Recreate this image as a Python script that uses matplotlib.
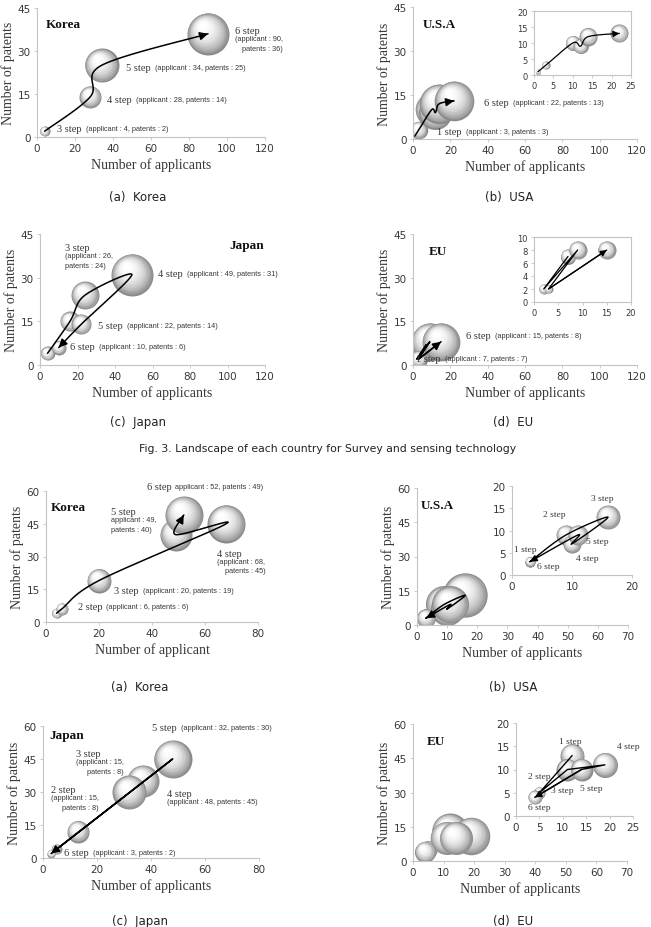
import matplotlib

matplotlib.use("Agg")
import matplotlib.pyplot as plt
import matplotlib.transforms as mtransforms
import numpy as np

W, H, DPI = 651, 928, 100
SERIF = ["Liberation Serif", "DejaVu Serif"]
SANS = ["Liberation Sans", "DejaVu Sans"]
TEXT = "#383838"
AXIS = "#c4c4c4"

# ---- Fig. 3: survey and sensing technology ----
kr1_x = [4, 28, 34, 90]
kr1_y = [2, 14, 25, 36]
kr1_bubble = [5, 11, 17, 21]

us1_x = [1, 3, 10, 12, 14, 22]
us1_y = [1, 3, 10, 9, 12, 13]
us1_bubble = [2.5, 4, 7.5, 7.5, 9, 9]

jp1_x = [4, 16, 24, 49, 22, 10]
jp1_y = [4, 15, 24, 31, 14, 6]
jp1_bubble = [7, 10, 14, 21, 10, 7]

eu1_x = [7, 2, 9, 3, 15]
eu1_y = [7, 2, 8, 2, 8]
eu1_bubble = [7.5, 5, 9, 4, 9]

# ---- second technology field ----
kr2_x = [4, 6, 20, 68, 49, 52]
kr2_y = [4, 6, 19, 45, 40, 49]
kr2_bubble = [5, 6, 12, 19, 16, 19]

us2_x = [3, 9, 16, 10, 11, 3]
us2_y = [3, 9, 13, 7, 9, 3]
us2_bubble = [5, 10, 12, 9, 10, 5]

jp2_x = [5, 13, 37, 48, 32, 3]
jp2_y = [4, 12, 35, 45, 30, 2]
jp2_bubble = [5, 11, 16, 19, 17, 4]

eu2_x = [12, 5, 11, 19, 14, 4]
eu2_y = [13, 5, 10, 11, 10, 4]
eu2_bubble = [12, 6, 11, 12.5, 11, 7]

fig = plt.figure(figsize=(W / DPI, H / DPI), dpi=DPI)


def add_axes(left, top, right, bottom):
    return fig.add_axes([left / W, 1 - bottom / H, (right - left) / W, (bottom - top) / H])


def style(ax, xmax, xstep, ymax, ystep, size=7.5, box=False):
    ax.set_xlim(0, xmax)
    ax.set_ylim(0, ymax)
    ax.set_xticks(np.arange(0, xmax + 0.1, xstep))
    ax.set_yticks(np.arange(0, ymax + 0.1, ystep))
    for name, spine in ax.spines.items():
        spine.set_color(AXIS)
        spine.set_linewidth(0.8)
        if name in ("top", "right"):
            spine.set_visible(box)
    ax.tick_params(length=2.5, width=0.6, color=AXIS, labelsize=size,
                   labelcolor=TEXT, pad=2)


def main_labels(ax, xlabel="Number of applicants"):
    ax.set_xlabel(xlabel, family=SERIF, fontsize=10, color=TEXT, labelpad=3)
    ax.set_ylabel("Number of patents", family=SERIF, fontsize=10, color=TEXT, labelpad=2)


def bubbles(ax, xs, ys, radii, scale=1.0, z=2):
    layers = 22
    for i, (x, y, r) in enumerate(zip(xs, ys, radii)):
        r = r * scale
        for k in range(layers):
            f = 1 - 0.93 * k / layers
            shift = (1 - f) * r * 0.6 / DPI
            offset = mtransforms.ScaledTranslation(-0.55 * shift, 0.8 * shift, fig.dpi_scale_trans)
            grey = 1 - 0.46 * f ** 2.5
            ax.scatter([x], [y], s=(2 * f * r * 72 / DPI) ** 2, color=(grey, grey, grey),
                       linewidths=0, transform=ax.transData + offset,
                       zorder=z + i * 0.05 + k * 0.001)


def spline(points, n=30):
    p = np.vstack([points[0], points, points[-1]])
    t = np.linspace(0, 1, n)[:, None]
    out = []
    for i in range(1, len(p) - 2):
        p0, p1, p2, p3 = p[i - 1], p[i], p[i + 1], p[i + 2]
        seg = 0.5 * (2 * p1 + (p2 - p0) * t + (2 * p0 - 5 * p1 + 4 * p2 - p3) * t ** 2
                     + (3 * p1 - p0 - 3 * p2 + p3) * t ** 3)
        out.append(seg if i == 1 else seg[1:])
    return np.vstack(out)


def arrow_path(ax, xs, ys, order, smooth=True, lw=1.1, head=12):
    pts = ax.transData.transform(np.column_stack([[xs[i] for i in order], [ys[i] for i in order]]))
    if smooth:
        pts = spline(pts)
    pts = ax.transData.inverted().transform(pts)
    ax.plot(pts[:, 0], pts[:, 1], color="black", lw=lw, zorder=5, solid_capstyle="round")
    back = pts[-4] if smooth else pts[-2]
    ax.annotate("", xy=pts[-1], xytext=back, zorder=5,
                arrowprops=dict(arrowstyle="-|>", color="black", lw=lw,
                                mutation_scale=head, shrinkA=0, shrinkB=0))


def step_text(ax, x, y, step, detail=None, below=False, size=7.5, dsize=5.3,
              ha="left", align="left"):
    t = ax.text(x, y, step, family=SERIF, fontsize=size, color=TEXT, ha=ha, va="center", zorder=6)
    if detail is None:
        return
    if below:
        ax.annotate(detail, xy=(0, 0), xycoords=t, xytext=(0, 0), textcoords="offset points",
                    ha="left", va="top", family=SANS, fontsize=dsize, color=TEXT,
                    multialignment=align, linespacing=1.5, zorder=6)
    else:
        ax.annotate(detail, xy=(1, 0.5), xycoords=t, xytext=(3, 0), textcoords="offset points",
                    ha="left", va="center", family=SANS, fontsize=dsize, color=TEXT, zorder=6)


def country(ax, x, y, name):
    ax.text(x, y, name, transform=ax.transAxes, family=SERIF, fontsize=9.5,
            fontweight="bold", color="#111111", ha="left", va="center", zorder=7)


def caption(x, y, s, size=8.5):
    fig.text(x / W, 1 - y / H, s, ha="center", va="center", fontsize=size, color="#222222")


# (a) Korea
ax = add_axes(37, 9, 265, 138)
style(ax, 120, 20, 45, 15)
main_labels(ax)
bubbles(ax, kr1_x, kr1_y, kr1_bubble)
arrow_path(ax, kr1_x, kr1_y, [0, 1, 2, 3])
country(ax, 0.04, 0.875, "Korea")
step_text(ax, 10.5, 3.1, "3 step", "(applicant : 4, patents : 2)")
step_text(ax, 37, 13.2, "4 step", "(applicant : 28, patents : 14)")
step_text(ax, 47, 24.4, "5 step", "(applicant : 34, patents : 25)")
step_text(ax, 104, 37, "6 step", "(applicant : 90,\npatents : 36)", below=True, align="right")

# (b) USA
ax = add_axes(413, 8, 637, 140)
style(ax, 120, 20, 45, 15)
main_labels(ax)
bubbles(ax, us1_x, us1_y, us1_bubble, scale=2.2)
arrow_path(ax, us1_x, us1_y, [0, 1, 2, 3, 4, 5])
country(ax, 0.045, 0.875, "U.S.A")
step_text(ax, 12.8, 2.4, "1 step", "(applicant : 3, patents : 3)")
step_text(ax, 38, 12.6, "6 step", "(applicant : 22, patents : 13)")
ins = add_axes(534, 12, 631, 76)
style(ins, 25, 5, 20, 5, size=6, box=True)
bubbles(ins, us1_x, us1_y, us1_bubble)
arrow_path(ins, us1_x, us1_y, [0, 1, 2, 3, 4, 5], lw=0.9, head=9)

# (c) Japan
ax = add_axes(40, 235, 265, 366)
style(ax, 120, 20, 45, 15)
main_labels(ax)
bubbles(ax, jp1_x, jp1_y, jp1_bubble)
arrow_path(ax, jp1_x, jp1_y, [0, 1, 2, 3, 4, 5])
country(ax, 0.84, 0.916, "Japan")
step_text(ax, 13.3, 40.2, "3 step", "(applicant : 26,\npatents : 24)", below=True)
step_text(ax, 63, 31.6, "4 step", "(applicant : 49, patents : 31)")
step_text(ax, 31, 13.4, "5 step", "(applicant : 22, patents : 14)")
step_text(ax, 16, 6.2, "6 step", "(applicant : 10, patents : 6)")

# (d) EU
ax = add_axes(413, 235, 637, 366)
style(ax, 120, 20, 45, 15)
main_labels(ax)
bubbles(ax, eu1_x, eu1_y, eu1_bubble, scale=2.1)
arrow_path(ax, eu1_x, eu1_y, [0, 1, 2, 3, 4], smooth=False)
country(ax, 0.07, 0.87, "EU")
step_text(ax, 28.4, 10.3, "6 step", "(applicant : 15, patents : 8)")
step_text(ax, 1.6, 2.4, "1 step", "(applicant : 7, patents : 7)")
ins = add_axes(534, 238, 631, 303)
style(ins, 20, 5, 10, 2, size=6, box=True)
bubbles(ins, eu1_x, eu1_y, eu1_bubble)
arrow_path(ins, eu1_x, eu1_y, [0, 1, 2, 3, 4], smooth=False, lw=0.9, head=9)

caption(138, 197, "(a)  Korea")
caption(509, 197, "(b)  USA")
caption(138, 423, "(c)  Japan")
caption(513, 423, "(d)  EU")
caption(328, 449, "Fig. 3. Landscape of each country for Survey and sensing technology", size=7.8)

# (a) Korea
ax = add_axes(46, 492, 258, 623)
style(ax, 80, 20, 60, 15)
main_labels(ax, "Number of applicant")
bubbles(ax, kr2_x, kr2_y, kr2_bubble)
arrow_path(ax, kr2_x, kr2_y, [0, 1, 2, 3, 4, 5])
country(ax, 0.02, 0.88, "Korea")
step_text(ax, 38, 62, "6 step", "applicant : 52, patents : 49)")
step_text(ax, 24.5, 50.4, "5 step", "applicant : 49,\npatents : 40)", below=True)
step_text(ax, 64.6, 31.6, "4 step", "(applicant : 68,\npatents : 45)", below=True, align="right")
step_text(ax, 25.8, 14.2, "3 step", "(applicant : 20, patents : 19)")
step_text(ax, 12, 6.9, "2 step", "(applicant : 6, patents : 6)")

# (b) USA
ax = add_axes(417, 489, 628, 626)
style(ax, 70, 10, 60, 15)
main_labels(ax)
bubbles(ax, us2_x, us2_y, us2_bubble, scale=1.85)
arrow_path(ax, us2_x, us2_y, [0, 1, 2, 3, 4, 5])
country(ax, 0.02, 0.876, "U.S.A")
ins = add_axes(512, 487, 632, 576)
ins.patch.set_alpha(0)
style(ins, 20, 10, 20, 5)
bubbles(ins, us2_x, us2_y, us2_bubble)
arrow_path(ins, us2_x, us2_y, [0, 1, 2, 3, 4, 5], lw=1.0, head=10)
for sx, sy, s in [(15, 17.3, "3 step"), (7, 13.7, "2 step"), (2.2, 5.8, "1 step"),
                  (14.3, 7.6, "5 step"), (12.5, 3.8, "4 step"), (6, 2, "6 step")]:
    step_text(ins, sx, sy, s, size=6.8, ha="center")

# (c) Japan
ax = add_axes(43, 727, 259, 859)
style(ax, 80, 20, 60, 15)
main_labels(ax)
bubbles(ax, jp2_x, jp2_y, jp2_bubble)
arrow_path(ax, jp2_x, jp2_y, [0, 3, 5], smooth=False)
country(ax, 0.03, 0.93, "Japan")
step_text(ax, 40.4, 59.5, "5 step", "(applicant : 32, patents : 30)")
step_text(ax, 12.2, 47.3, "3 step", "(applicant : 15,\npatents : 8)", below=True, align="right")
step_text(ax, 3, 31, "2 step", "(applicant : 15,\npatents : 8)", below=True, align="right")
step_text(ax, 45.9, 29.5, "4 step", "(applicant : 48, patents : 45)", below=True)
step_text(ax, 7.8, 2.7, "6 step", "(applicant : 3, patents : 2)")

# (d) EU
ax = add_axes(413, 725, 627, 862)
style(ax, 70, 10, 60, 15)
main_labels(ax)
bubbles(ax, eu2_x, eu2_y, eu2_bubble, scale=1.5)
country(ax, 0.065, 0.876, "EU")
ins = add_axes(516, 724, 633, 817)
ins.patch.set_alpha(0)
style(ins, 25, 5, 20, 5)
bubbles(ins, eu2_x, eu2_y, eu2_bubble)
arrow_path(ins, eu2_x, eu2_y, [0, 1, 2, 3, 4, 5], smooth=False, lw=1.0, head=10)
for sx, sy, s in [(11.5, 16.1, "1 step"), (24, 15, "4 step"), (4.9, 8.6, "2 step"),
                  (10, 5.6, "3 step"), (16, 6, "5 step"), (4.9, 1.9, "6 step")]:
    step_text(ins, sx, sy, s, size=6.8, ha="center")

caption(140, 687, "(a)  Korea")
caption(513, 687, "(b)  USA")
caption(140, 922, "(c)  Japan")
caption(513, 922, "(d)  EU")

fig.savefig("out.png", dpi=DPI)
